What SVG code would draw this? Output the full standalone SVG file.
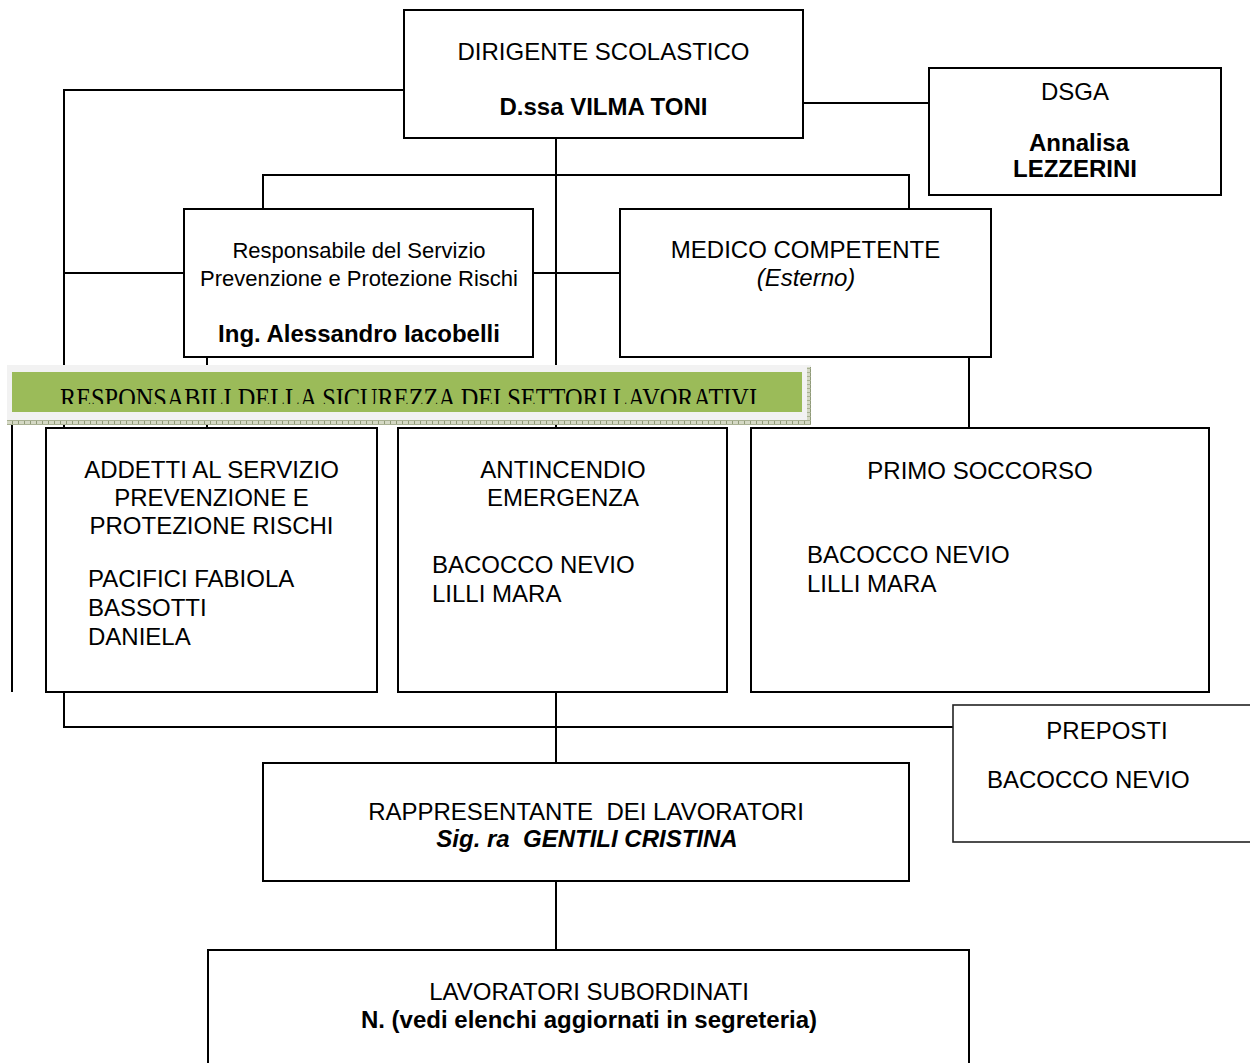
<svg xmlns="http://www.w3.org/2000/svg" width="1250" height="1063" viewBox="0 0 1250 1063">
<style>
.box{fill:#fff;stroke:#000;stroke-width:2}
.thin{fill:#fff;stroke:#222;stroke-width:1.6}
.ln{fill:none;stroke:#000;stroke-width:2}
text{font-family:"Liberation Sans",Arial,sans-serif;font-size:24px;fill:#000}
.c{text-anchor:middle}
.b{font-weight:bold}
.i{font-style:italic}
.n{font-size:22px}
.ban{font-family:"Liberation Serif","Times New Roman",serif;font-size:30px}
</style>
<defs>
<clipPath id="banclip"><rect x="12" y="372" width="790" height="32"/></clipPath>
<pattern id="hatch" width="6" height="4" patternUnits="userSpaceOnUse">
<rect width="6" height="4" fill="#d4d8c4"/>
<rect width="1" height="4" fill="#8f9a78"/>
<rect width="6" height="1" fill="#a8b092"/>
</pattern>
</defs>
<rect width="1250" height="1063" fill="#fff"/>
<g id="connectors">
<polyline class="ln" points="404,90 64,90 64,727 953,727"/>
<line class="ln" x1="64" y1="273" x2="184" y2="273"/>
<line class="ln" x1="803" y1="103" x2="929" y2="103"/>
<line class="ln" x1="556" y1="138" x2="556" y2="763"/>
<polyline class="ln" points="263,209 263,175 909,175 909,209"/>
<line class="ln" x1="533" y1="273" x2="620" y2="273"/>
<line class="ln" x1="207" y1="357" x2="207" y2="428"/>
<line class="ln" x1="969" y1="357" x2="969" y2="428"/>
<line class="ln" x1="12" y1="424" x2="12" y2="692"/>
<line class="ln" x1="556" y1="881" x2="556" y2="950"/>
</g>
<g id="banner">
<rect x="7" y="365" width="804" height="60" fill="#f2f2f2"/>
<rect x="7" y="420" width="804" height="5" fill="url(#hatch)"/>
<rect x="807" y="367" width="4" height="58" fill="url(#hatch)"/>
<rect x="12" y="372" width="790" height="40" fill="#9bbb59"/>
<text class="ban" x="60" y="408" textLength="697" lengthAdjust="spacingAndGlyphs" clip-path="url(#banclip)">RESPONSABILI DELLA SICUREZZA DEI SETTORI LAVORATIVI</text>
</g>
<g id="dirigente">
<rect class="box" x="404" y="10" width="399" height="128"/>
<text class="c" x="603.5" y="60">DIRIGENTE SCOLASTICO</text>
<text class="c b" x="603.5" y="115">D.ssa VILMA TONI</text>
</g>
<g id="dsga">
<rect class="box" x="929" y="68" width="292" height="127"/>
<text class="c" x="1075" y="100">DSGA</text>
<text class="c b" x="1079" y="151">Annalisa</text>
<text class="c b" x="1075" y="177">LEZZERINI</text>
</g>
<g id="rspp">
<rect class="box" x="184" y="209" width="349" height="148"/>
<text class="c n" x="359" y="258">Responsabile del Servizio</text>
<text class="c n" x="359" y="286">Prevenzione e Protezione Rischi</text>
<text class="c b" x="359" y="342">Ing. Alessandro Iacobelli</text>
</g>
<g id="medico">
<rect class="box" x="620" y="209" width="371" height="148"/>
<text class="c" x="805.5" y="258">MEDICO COMPETENTE</text>
<text class="c i" x="806" y="286">(Esterno)</text>
</g>
<g id="addetti">
<rect class="box" x="46" y="428" width="331" height="264"/>
<text class="c" x="211.5" y="478">ADDETTI AL SERVIZIO</text>
<text class="c" x="211.5" y="506">PREVENZIONE E</text>
<text class="c" x="211.5" y="534">PROTEZIONE RISCHI</text>
<text x="88" y="587">PACIFICI FABIOLA</text>
<text x="88" y="616">BASSOTTI</text>
<text x="88" y="645">DANIELA</text>
</g>
<g id="antincendio">
<rect class="box" x="398" y="428" width="329" height="264"/>
<text class="c" x="563" y="478">ANTINCENDIO</text>
<text class="c" x="563" y="506">EMERGENZA</text>
<text x="432" y="573">BACOCCO NEVIO</text>
<text x="432" y="602">LILLI MARA</text>
</g>
<g id="primo-soccorso">
<rect class="box" x="751" y="428" width="458" height="264"/>
<text class="c" x="980" y="479">PRIMO SOCCORSO</text>
<text x="807" y="563">BACOCCO NEVIO</text>
<text x="807" y="592">LILLI MARA</text>
</g>
<g id="preposti">
<rect class="thin" x="953" y="705" width="310" height="137"/>
<text class="c" x="1107" y="739">PREPOSTI</text>
<text x="987" y="788">BACOCCO NEVIO</text>
</g>
<g id="rappresentante">
<rect class="box" x="263" y="763" width="646" height="118"/>
<text class="c" x="586" y="820" style="white-space:pre">RAPPRESENTANTE  DEI LAVORATORI</text>
<text class="c b i" x="587" y="847" style="white-space:pre">Sig. ra  GENTILI CRISTINA</text>
</g>
<g id="lavoratori">
<rect class="box" x="208" y="950" width="761" height="130"/>
<text class="c" x="589" y="1000">LAVORATORI SUBORDINATI</text>
<text class="c b" x="589" y="1028">N. (vedi elenchi aggiornati in segreteria)</text>
</g>
</svg>
